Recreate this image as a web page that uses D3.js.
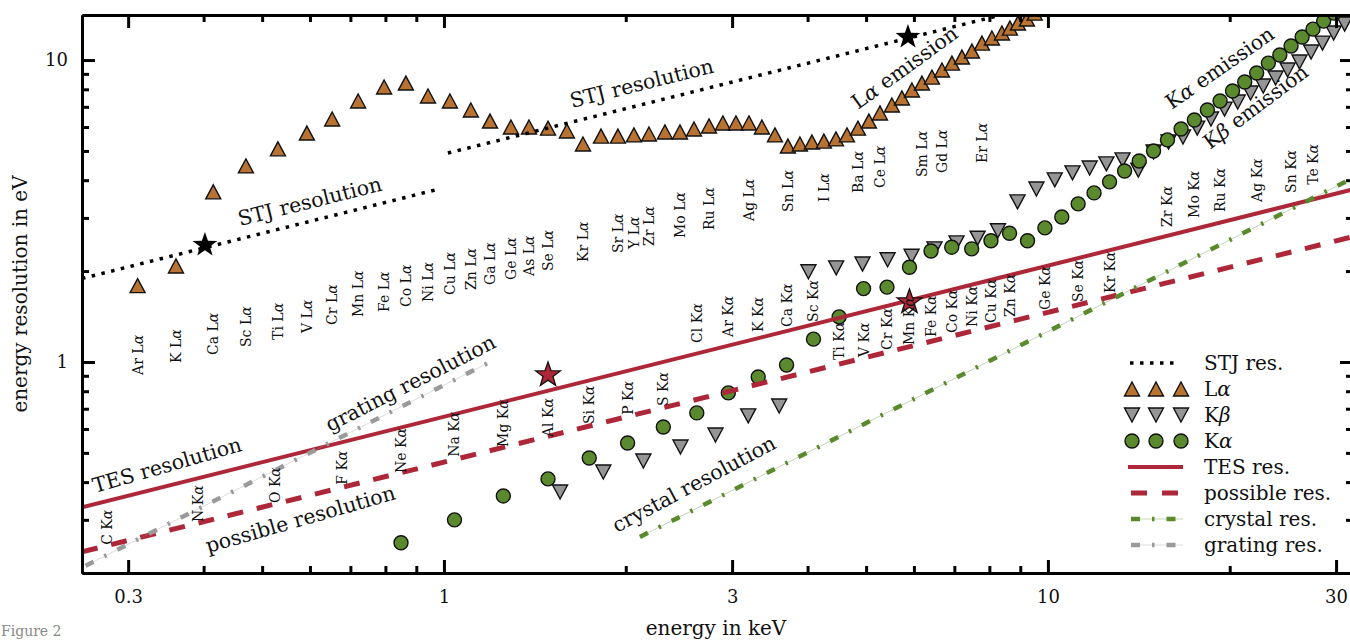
<!DOCTYPE html>
<html>
<head>
<meta charset="utf-8">
<script src="https://cdn.jsdelivr.net/npm/d3@7"></script>
<style>
  body { margin: 0; background: #fff; }
  svg { display: block; }
  text { font-family: "DejaVu Serif", serif; }
</style>
</head>
<body>
<svg id="chart" width="1350" height="641"></svg>
<script>
// ---- data (energy in keV, resolution in eV) ----
const xTickValues = [0.3, 1, 3, 10, 30];
const xTickLabels = ['0.3', '1', '3', '10', '30'];
const xMinorTicks = [0.4, 0.5, 0.6, 0.7, 0.8, 0.9, 2, 4, 5, 6, 7, 8, 9, 20];
const yTickValues = [1, 10];
const yTickLabels = ['1', '10'];
const yMinorTicks = [0.3, 0.4, 0.5, 0.6, 0.7, 0.8, 0.9, 2, 3, 4, 5, 6, 7, 8, 9];

// L-alpha emission
const laEnergy = [0.311, 0.360, 0.415, 0.470, 0.531, 0.593, 0.653, 0.721, 0.796, 0.865, 0.941, 1.023, 1.108, 1.192, 1.291, 1.383, 1.487, 1.598, 1.699, 1.820, 1.941, 2.063, 2.185, 2.322, 2.459, 2.594, 2.747, 2.896, 3.044, 3.199, 3.361, 3.532, 3.711, 3.885, 4.067, 4.257, 4.457, 4.648, 4.847, 5.054, 5.271, 5.516, 5.731, 5.954, 6.186, 6.426, 6.677, 6.936, 7.205, 7.485, 7.776, 8.078, 8.392, 8.652, 8.920, 9.231, 9.51];
const laRes = [1.79, 2.08, 3.66, 4.46, 5.08, 5.73, 6.38, 7.32, 8.14, 8.39, 7.60, 7.32, 6.83, 6.28, 6.00, 6.00, 5.95, 5.82, 5.27, 5.60, 5.60, 5.65, 5.69, 5.78, 5.78, 5.91, 6.05, 6.19, 6.19, 6.19, 6.00, 5.65, 5.19, 5.27, 5.35, 5.39, 5.48, 5.65, 5.95, 6.28, 6.68, 7.10, 7.49, 7.96, 8.39, 8.78, 9.27, 9.77, 10.23, 10.71, 11.38, 11.83, 12.29, 12.76, 13.26, 13.67, 14.3];

// K-beta emission
const kbEnergy = [1.557, 1.836, 2.139, 2.464, 2.816, 3.190, 3.590, 4.013, 4.461, 4.932, 5.427, 5.947, 6.490, 7.058, 7.649, 8.265, 8.905, 9.572, 10.264, 10.982, 11.726, 12.496, 13.291, 14.112, 14.961, 15.836, 16.738, 17.668, 18.623, 19.608, 20.619, 21.657, 22.724, 23.819, 24.942, 26.096, 27.276, 28.486, 29.726, 30.996];
const kbRes = [0.371, 0.432, 0.470, 0.523, 0.573, 0.663, 0.715, 1.99, 2.05, 2.11, 2.18, 2.24, 2.37, 2.48, 2.57, 2.72, 3.39, 3.74, 4.01, 4.23, 4.39, 4.53, 4.67, 4.32, 4.96, 5.35, 5.56, 5.95, 6.38, 6.88, 7.26, 7.78, 8.20, 8.72, 9.27, 9.85, 10.63, 11.38, 12.29, 13.16];

// K-alpha emission
const kaEnergy = [0.849, 1.041, 1.254, 1.487, 1.740, 2.014, 2.308, 2.622, 2.957, 3.314, 3.692, 4.091, 4.511, 4.952, 5.415, 5.899, 6.404, 6.930, 7.478, 8.048, 8.639, 9.252, 9.886, 10.544, 11.222, 11.924, 12.649, 13.395, 14.165, 14.958, 15.775, 16.615, 17.479, 18.367, 19.279, 20.216, 21.177, 22.163, 23.174, 24.210, 25.271, 26.359, 27.472, 28.612, 29.779];
const kaRes = [0.252, 0.300, 0.360, 0.410, 0.481, 0.539, 0.609, 0.678, 0.790, 0.892, 0.977, 1.19, 1.41, 1.75, 1.77, 2.06, 2.33, 2.40, 2.37, 2.52, 2.67, 2.52, 2.78, 3.02, 3.34, 3.63, 3.95, 4.29, 4.63, 5.00, 5.44, 5.91, 6.33, 6.83, 7.32, 7.90, 8.46, 9.06, 9.77, 10.39, 11.13, 11.92, 12.66, 13.46, 14.3];

// element labels (text starts at the given resolution value)
const laLabels = ['Ar', 'K', 'Ca', 'Sc', 'Ti', 'V', 'Cr', 'Mn', 'Fe', 'Co', 'Ni', 'Cu', 'Zn', 'Ga', 'Ge', 'As', 'Se', 'Kr', 'Sr', 'Y', 'Zr', 'Mo', 'Ru', 'Ag', 'Sn', 'I', 'Ba', 'Ce', 'Sm', 'Gd', 'Er'];
const laLabelEnergy = [0.311, 0.360, 0.415, 0.470, 0.531, 0.593, 0.653, 0.721, 0.796, 0.865, 0.941, 1.023, 1.108, 1.192, 1.291, 1.383, 1.487, 1.699, 1.941, 2.063, 2.185, 2.459, 2.747, 3.199, 3.711, 4.257, 4.847, 5.271, 6.186, 6.677, 7.776];
const laLabelRes = [0.906, 0.992, 1.055, 1.121, 1.183, 1.247, 1.326, 1.409, 1.464, 1.521, 1.580, 1.667, 1.731, 1.799, 1.868, 1.927, 2.001, 2.144, 2.296, 2.367, 2.422, 2.574, 2.736, 2.931, 3.139, 3.387, 3.628, 3.769, 4.099, 4.225, 4.559];

const kaLabels = ['C', 'N', 'O', 'F', 'Ne', 'Na', 'Mg', 'Al', 'Si', 'P', 'S', 'Cl', 'Ar', 'K', 'Ca', 'Sc', 'Ti', 'V', 'Cr', 'Mn', 'Fe', 'Co', 'Ni', 'Cu', 'Zn', 'Ge', 'Se', 'Kr', 'Zr', 'Mo', 'Ru', 'Ag', 'Sn', 'Te'];
const kaLabelEnergy = [0.277, 0.392, 0.525, 0.677, 0.849, 1.041, 1.254, 1.487, 1.740, 2.014, 2.308, 2.622, 2.957, 3.314, 3.692, 4.091, 4.511, 4.952, 5.415, 5.899, 6.404, 6.930, 7.478, 8.048, 8.639, 9.886, 11.222, 12.649, 15.775, 17.479, 19.279, 22.163, 25.271, 27.472];
const kaLabelRes = [0.248, 0.295, 0.341, 0.392, 0.429, 0.485, 0.523, 0.564, 0.623, 0.668, 0.715, 1.156, 1.210, 1.257, 1.306, 1.357, 1.015, 1.039, 1.096, 1.138, 1.210, 1.247, 1.306, 1.346, 1.409, 1.487, 1.580, 1.692, 2.80, 3.00, 3.14, 3.39, 3.63, 3.86];

// detector resolution curves (end points, straight in log-log)
const stjLowE = [0.2516, 0.966], stjLowR = [1.89, 3.71];
const stjHighE = [1.015, 10.5], stjHighR = [4.92, 15.8];
const tesE = [0.2516, 32], tesR = [0.330, 3.73];
const possibleE = [0.2516, 32], possibleR = [0.235, 2.60];
const crystalE = [2.111, 32], crystalR = [0.2634, 4.07];
const gratingE = [0.255, 1.183], gratingR = [0.2114, 0.992];

// stars
const blackStarE = [0.402, 5.865], blackStarR = [2.44, 11.92];
const redStarE = [1.487, 5.899], redStarR = [0.906, 1.58];

// rotated annotations
const noteTexts = ['STJ resolution', 'STJ resolution', 'Lα emission', 'Kα emission', 'Kβ emission', 'TES resolution', 'grating resolution', 'possible resolution', 'crystal resolution'];
const noteE = [0.4595, 1.629, 4.85, 16.04, 18.55, 0.2643, 0.6475, 0.4067, 1.934];
const noteR = [2.82, 6.94, 6.83, 6.83, 5.04, 0.368, 0.586, 0.233, 0.2716];
const noteAngle = [-14, -14, -36, -35, -37, -16, -27, -16, -28];

const legendLabels = ['STJ res.', 'Lα', 'Kβ', 'Kα', 'TES res.', 'possible res.', 'crystal res.', 'grating res.'];

// ---- layout ----
const plot = { left: 82, right: 1353, top: 15, bottom: 573 };
const C_LA = '#b87333', C_KB = '#959595', C_KA = '#5a8a2d', C_RED = '#ae2738', C_GRAY = '#9a9a9a';

const x = d3.scaleLog().domain([0.2516, 32]).range([plot.left, plot.right]);
const y = d3.scaleLog().domain([0.2, 14.1]).range([plot.bottom, plot.top]);

const svg = d3.select('#chart');
svg.append('defs').append('clipPath').attr('id', 'clip')
  .append('rect')
  .attr('x', plot.left).attr('y', plot.top)
  .attr('width', plot.right - plot.left).attr('height', plot.bottom - plot.top);

function greek(sel, str) {
  str.split(/([αβ])/).filter(s => s.length).forEach(part => {
    const t = sel.append('tspan').text(part);
    if (/[αβ]/.test(part)) t.attr('font-style', 'italic');
  });
}

const triUp = (w, h) => `M0,${-h}L${w},${h}L${-w},${h}Z`;
const triDown = (w, h) => `M0,${h}L${w},${-h}L${-w},${-h}Z`;
function starPath(ro, ri) {
  const p = [];
  for (let k = 0; k < 10; k++) {
    const r = k % 2 ? ri : ro;
    const a = -Math.PI / 2 + k * Math.PI / 5;
    p.push([r * Math.cos(a), r * Math.sin(a)]);
  }
  return 'M' + p.join('L') + 'Z';
}

const zip = (a, b) => a.map((v, i) => [v, b[i]]);
const line = d3.line().x(d => x(d[0])).y(d => y(d[1]));

const g = svg.append('g').attr('clip-path', 'url(#clip)');

// Lα triangles
g.selectAll('.la').data(zip(laEnergy, laRes)).enter().append('path')
  .attr('class', 'la')
  .attr('transform', d => `translate(${x(d[0])},${y(d[1])})`)
  .attr('d', triUp(7.5, 7))
  .attr('fill', C_LA).attr('stroke', '#111').attr('stroke-width', 1.4);

// Kβ triangles
g.selectAll('.kb').data(zip(kbEnergy, kbRes)).enter().append('path')
  .attr('class', 'kb')
  .attr('transform', d => `translate(${x(d[0])},${y(d[1])})`)
  .attr('d', triDown(7.5, 7))
  .attr('fill', C_KB).attr('stroke', '#111').attr('stroke-width', 1.4);

// Kα circles
g.selectAll('.ka').data(zip(kaEnergy, kaRes)).enter().append('circle')
  .attr('class', 'ka')
  .attr('cx', d => x(d[0])).attr('cy', d => y(d[1])).attr('r', 7)
  .attr('fill', C_KA).attr('stroke', '#111').attr('stroke-width', 1.4);

// STJ (dotted, black)
[[stjLowE, stjLowR], [stjHighE, stjHighR]].forEach(([e, r]) => {
  g.append('path').datum(zip(e, r)).attr('d', line)
    .attr('fill', 'none').attr('stroke', '#000').attr('stroke-width', 3.5)
    .attr('stroke-dasharray', '3.5,6.5');
});

// TES (solid red)
g.append('path').datum(zip(tesE, tesR)).attr('d', line)
  .attr('fill', 'none').attr('stroke', C_RED).attr('stroke-width', 4);

// possible (dashed red)
g.append('path').datum(zip(possibleE, possibleR)).attr('d', line)
  .attr('fill', 'none').attr('stroke', C_RED).attr('stroke-width', 5)
  .attr('stroke-dasharray', '16,14');

// crystal and grating (dash-dot with faint underlay)
[[crystalE, crystalR, C_KA], [gratingE, gratingR, C_GRAY]].forEach(([e, r, c]) => {
  g.append('path').datum(zip(e, r)).attr('d', line)
    .attr('fill', 'none').attr('stroke', c).attr('stroke-width', 1).attr('stroke-opacity', 0.35);
  g.append('path').datum(zip(e, r)).attr('d', line)
    .attr('fill', 'none').attr('stroke', c).attr('stroke-width', 4.5)
    .attr('stroke-dasharray', '9,12,2.5,12');
});

// stars
g.selectAll('.bstar').data(zip(blackStarE, blackStarR)).enter().append('path')
  .attr('transform', d => `translate(${x(d[0])},${y(d[1])})`)
  .attr('d', starPath(13, 5.2)).attr('fill', '#000');
g.selectAll('.rstar').data(zip(redStarE, redStarR)).enter().append('path')
  .attr('transform', d => `translate(${x(d[0])},${y(d[1])})`)
  .attr('d', starPath(13, 5.2)).attr('fill', C_RED).attr('stroke', '#111').attr('stroke-width', 1.3);

// element labels
function elementLabels(names, energies, res, suffix) {
  names.forEach((n, i) => {
    const t = g.append('text')
      .attr('transform', `translate(${x(energies[i])},${y(res[i])}) rotate(-90)`)
      .attr('text-anchor', 'start').attr('dominant-baseline', 'central')
      .attr('font-size', 14).attr('fill', '#111');
    greek(t, n + ' ' + suffix);
  });
}
elementLabels(laLabels, laLabelEnergy, laLabelRes, 'Lα');
elementLabels(kaLabels, kaLabelEnergy, kaLabelRes, 'Kα');

// annotations
noteTexts.forEach((s, i) => {
  const t = svg.append('text')
    .attr('transform', `translate(${x(noteE[i])},${y(noteR[i])}) rotate(${noteAngle[i]})`)
    .attr('font-size', 20.5).attr('fill', '#111');
  greek(t, s);
});

// ---- axes ----
function styleAxis(sel) {
  sel.select('.domain').attr('stroke', '#000').attr('stroke-width', 3);
  sel.selectAll('.tick line').attr('stroke', '#000').attr('stroke-width', 3);
  sel.selectAll('.tick text').attr('font-family', '"DejaVu Sans", sans-serif').attr('font-size', 18).attr('fill', '#111');
}
const bottomT = `translate(0,${plot.bottom})`, topT = `translate(0,${plot.top})`;
const leftT = `translate(${plot.left},0)`, rightT = `translate(${plot.right},0)`;

svg.append('g').attr('transform', bottomT)
  .call(d3.axisBottom(x).tickValues(xMinorTicks).tickSize(-7).tickSizeOuter(0).tickFormat('')).call(styleAxis);
svg.append('g').attr('transform', bottomT)
  .call(d3.axisBottom(x).tickValues(xTickValues).tickSize(-13).tickSizeOuter(0).tickPadding(17)
    .tickFormat((d, i) => xTickLabels[i])).call(styleAxis);
svg.append('g').attr('transform', topT)
  .call(d3.axisTop(x).tickValues(xMinorTicks).tickSize(-7).tickSizeOuter(0).tickFormat('')).call(styleAxis);
svg.append('g').attr('transform', topT)
  .call(d3.axisTop(x).tickValues(xTickValues).tickSize(-13).tickSizeOuter(0).tickFormat('')).call(styleAxis);

svg.append('g').attr('transform', leftT)
  .call(d3.axisLeft(y).tickValues(yMinorTicks).tickSize(-7).tickSizeOuter(0).tickFormat('')).call(styleAxis);
svg.append('g').attr('transform', leftT)
  .call(d3.axisLeft(y).tickValues(yTickValues).tickSize(-13).tickSizeOuter(0).tickPadding(14)
    .tickFormat((d, i) => yTickLabels[i])).call(styleAxis);
svg.append('g').attr('transform', rightT)
  .call(d3.axisRight(y).tickValues(yMinorTicks).tickSize(-7).tickSizeOuter(0).tickFormat('')).call(styleAxis);
svg.append('g').attr('transform', rightT)
  .call(d3.axisRight(y).tickValues(yTickValues).tickSize(-13).tickSizeOuter(0).tickFormat('')).call(styleAxis);

// axis titles
svg.append('text')
  .attr('x', (plot.left + 1350) / 2).attr('y', 635)
  .attr('text-anchor', 'middle').attr('font-size', 20).attr('fill', '#111')
  .text('energy in keV');
svg.append('text')
  .attr('transform', `translate(27,${(plot.top + plot.bottom) / 2}) rotate(-90)`)
  .attr('text-anchor', 'middle').attr('font-size', 20).attr('fill', '#111')
  .text('energy resolution in eV');

// caption at the lower-left corner
svg.append('text').attr('x', 1).attr('y', 636)
  .attr('font-size', 14).attr('fill', '#888').text('Figure 2');

// ---- legend ----
const lg = svg.append('g').attr('transform', 'translate(1128,363)');
const rowH = 26;
legendLabels.forEach((lab, i) => {
  const row = lg.append('g').attr('transform', `translate(0,${i * rowH})`);
  if (i === 0) {
    row.append('line').attr('x1', 2).attr('x2', 50).attr('stroke', '#000')
      .attr('stroke-width', 3.5).attr('stroke-dasharray', '3.5,6.5');
  } else if (i >= 1 && i <= 3) {
    [4, 28, 53].forEach(cx => {
      if (i === 3) {
        row.append('circle').attr('cx', cx).attr('r', 7)
          .attr('fill', C_KA).attr('stroke', '#111').attr('stroke-width', 1.4);
      } else {
        row.append('path').attr('transform', `translate(${cx},0)`)
          .attr('d', i === 1 ? triUp(7.5, 7) : triDown(7.5, 7))
          .attr('fill', i === 1 ? C_LA : C_KB).attr('stroke', '#111').attr('stroke-width', 1.4);
      }
    });
  } else if (i === 4) {
    row.append('line').attr('x1', 0).attr('x2', 55).attr('stroke', C_RED).attr('stroke-width', 4);
  } else if (i === 5) {
    row.append('line').attr('x1', 3).attr('x2', 50).attr('stroke', C_RED).attr('stroke-width', 5)
      .attr('stroke-dasharray', '16,15');
  } else {
    const c = i === 6 ? C_KA : C_GRAY;
    row.append('line').attr('x1', 3).attr('x2', 55).attr('stroke', c).attr('stroke-width', 1).attr('stroke-opacity', 0.35);
    row.append('line').attr('x1', 3).attr('x2', 55).attr('stroke', c).attr('stroke-width', 4.5)
      .attr('stroke-dasharray', '9,12,2.5,12');
  }
  const t = row.append('text').attr('x', 76).attr('dominant-baseline', 'central')
    .attr('font-size', 20).attr('fill', '#111');
  greek(t, lab);
});
</script>
</body>
</html>
